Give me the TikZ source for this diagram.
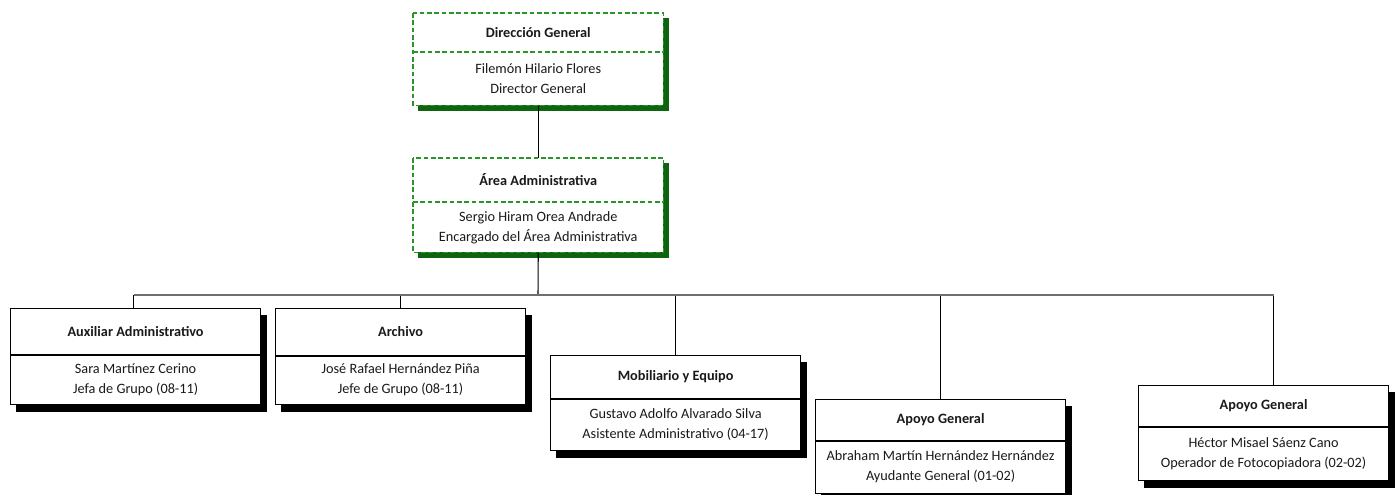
\documentclass[tikz,border=0pt]{standalone}
\usepackage{fontspec}
\setmainfont{Carlito}
\usetikzlibrary{calc,backgrounds}
\definecolor{dgreen}{HTML}{0F650F}
\definecolor{mgreen}{HTML}{2A962A}
\definecolor{txt}{HTML}{1A1A1A}
\definecolor{busgray}{HTML}{6F6F6F}
\tikzset{
  boxbase/.style={rectangle, inner sep=0pt, minimum width=187.5pt, fill=white, anchor=north west},
  greenbox/.style={boxbase},
  blackbox/.style={boxbase, draw=black, line width=0.9pt},
  gshadow/.style={fill=dgreen},
  bshadow/.style={fill=black},
  ttl/.style={font=\fontsize{10.7}{15}\selectfont\bfseries, text=txt, inner sep=0pt},
  bdy/.style={font=\fontsize{10.7}{15}\selectfont, text=txt, align=center, inner sep=0pt},
  gdiv/.style={draw=mgreen, line width=1pt, dash pattern=on 3.5pt off 2pt},
  bdiv/.style={draw=black, line width=0.9pt},
  conn/.style={draw=black, line width=0.8pt},
  busline/.style={draw=busgray, line width=2pt}
}
\begin{document}
\begin{tikzpicture}[x=0.75pt,y=-0.75pt]
\useasboundingbox (0,0) rectangle (1400,495);
% top boxes
\node[greenbox, minimum height=69pt] (dg) at (413,13) {};
\draw[gdiv] (dg.north west) rectangle (dg.south east);
\draw[gdiv] ($(dg.north west)+(0,39)$) -- ($(dg.north east)+(0,39)$);
\node[ttl] (dgt) at ($(dg.north)+(0,20)$) {Dirección General};
\node[bdy] (dgb) at ($(dg.north)+(0,66)$) {Filemón Hilario Flores\\Director General};

\node[greenbox, minimum height=70.5pt] (aa) at (413,158) {};
\draw[gdiv] (aa.north west) rectangle (aa.south east);
\draw[gdiv] ($(aa.north west)+(0,44)$) -- ($(aa.north east)+(0,44)$);
\node[ttl] (aat) at ($(aa.north)+(0,22)$) {Área Administrativa};
\node[bdy] (aab) at ($(aa.north)+(0,70)$) {Sergio Hiram Orea Andrade\\Encargado del Área Administrativa};

% bottom row
\node[blackbox, minimum height=72pt] (ax) at (10,308) {};
\draw[bdiv] ($(ax.north west)+(0,47)$) -- ($(ax.north east)+(0,47)$);
\node[ttl] (axt) at ($(ax.north)+(0,24)$) {Auxiliar Administrativo};
\node[bdy] (axb) at ($(ax.north)+(0,72)$) {Sara Martínez Cerino\\Jefa de Grupo (08-11)};

\node[blackbox, minimum height=72pt] (ar) at (275,308) {};
\draw[bdiv] ($(ar.north west)+(0,48)$) -- ($(ar.north east)+(0,48)$);
\node[ttl] (art) at ($(ar.north)+(0,24)$) {Archivo};
\node[bdy] (arb) at ($(ar.north)+(0,72)$) {José Rafael Hernández Piña\\Jefe de Grupo (08-11)};

\node[blackbox, minimum height=71.25pt] (mo) at (550,355) {};
\draw[bdiv] ($(mo.north west)+(0,44)$) -- ($(mo.north east)+(0,44)$);
\node[ttl] (mot) at ($(mo.north)+(0,22)$) {Mobiliario y Equipo};
\node[bdy] (mob) at ($(mo.north)+(0,70)$) {Gustavo Adolfo Alvarado Silva\\Asistente Administrativo (04-17)};

\node[blackbox, minimum height=70.5pt] (ag) at (815,399) {};
\draw[bdiv] ($(ag.north west)+(0,42)$) -- ($(ag.north east)+(0,42)$);
\node[ttl] (agt) at ($(ag.north)+(0,21)$) {Apoyo General};
\node[bdy] (agb) at ($(ag.north)+(0,68)$) {Abraham Martín Hernández Hernández\\Ayudante General (01-02)};

\node[blackbox, minimum height=71.25pt] (ah) at (1138,385) {};
\draw[bdiv] ($(ah.north west)+(0,42)$) -- ($(ah.north east)+(0,42)$);
\node[ttl] (aht) at ($(ah.north)+(0,21)$) {Apoyo General};
\node[bdy] (ahb) at ($(ah.north)+(0,69)$) {Héctor Misael Sáenz Cano\\Operador de Fotocopiadora (02-02)};

% shadows
\begin{scope}[on background layer]
  \foreach \n in {dg,aa}
    \fill[gshadow] ($(\n.north west)+(5,5)$) rectangle ($(\n.south east)+(5,5)$);
  \foreach \n in {ax,ar,mo,ag,ah}
    \fill[bshadow] ($(\n.north west)+(6,7)$) rectangle ($(\n.south east)+(6,7)$);
\end{scope}

% connectors
\coordinate (bus) at (538,295);
\coordinate (ahtop) at ($(ah.north)+(10,0)$);
\coordinate (axtop) at ($(ax.north)+(-2,0)$);
\draw[conn] (dg.south) -- (aa.north);
\draw[conn] (aa.south) -- (bus);
\draw[conn] (axtop |- bus) -- (axtop);
\draw[conn] (ar.north |- bus) -- (ar.north);
\draw[conn] (mo.north |- bus) -- (mo.north);
\draw[conn] (ag.north |- bus) -- (ag.north);
\draw[conn] (ahtop |- bus) -- (ahtop);
\draw[busline] (axtop |- bus) -- (ahtop |- bus);
\end{tikzpicture}
\end{document}
